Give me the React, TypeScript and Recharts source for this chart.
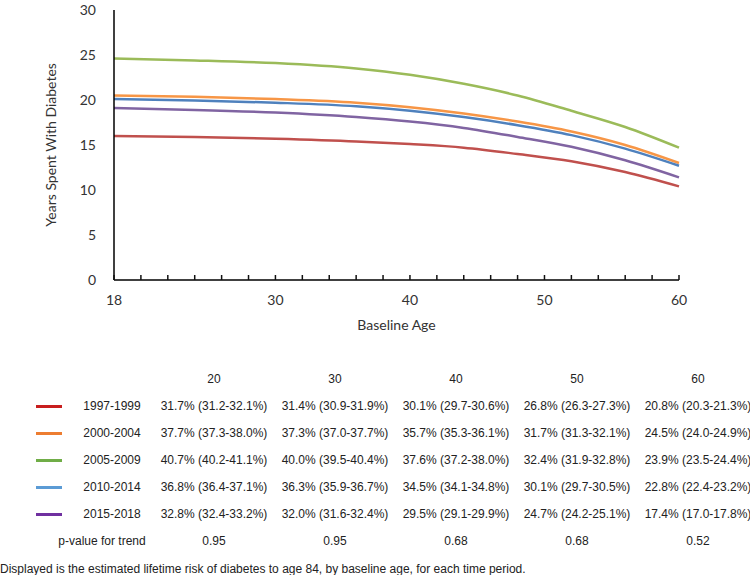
import { LineChart, Line, XAxis, YAxis } from 'recharts';

const ages = [18, 24, 30, 36, 40, 44, 48, 52, 56, 60];
const period1997 = [16.0, 15.9, 15.7, 15.4, 15.1, 14.7, 14.0, 13.2, 12.0, 10.4];
const period2000 = [20.5, 20.35, 20.1, 19.7, 19.2, 18.5, 17.6, 16.5, 15.0, 13.0];
const period2005 = [24.6, 24.4, 24.1, 23.5, 22.8, 21.8, 20.5, 18.8, 17.0, 14.7];
const period2010 = [20.1, 19.95, 19.7, 19.3, 18.8, 18.1, 17.2, 16.1, 14.6, 12.7];
const period2015 = [19.1, 18.9, 18.6, 18.1, 17.6, 16.9, 15.9, 14.8, 13.3, 11.4];

const xTicks = [18, 20, 22, 24, 26, 28, 30, 32, 34, 36, 38, 40, 42, 44, 46, 48, 50, 52, 54, 56, 58, 60];
const xLabels = [18, 30, 40, 50, 60];
const yTicks = [0, 5, 10, 15, 20, 25, 30];

const periods = ['1997-1999', '2000-2004', '2005-2009', '2010-2014', '2015-2018'];
const tableAges = ['20', '30', '40', '50', '60'];
const riskRows = [
  ['31.7% (31.2-32.1%)', '31.4% (30.9-31.9%)', '30.1% (29.7-30.6%)', '26.8% (26.3-27.3%)', '20.8% (20.3-21.3%)'],
  ['37.7% (37.3-38.0%)', '37.3% (37.0-37.7%)', '35.7% (35.3-36.1%)', '31.7% (31.3-32.1%)', '24.5% (24.0-24.9%)'],
  ['40.7% (40.2-41.1%)', '40.0% (39.5-40.4%)', '37.6% (37.2-38.0%)', '32.4% (31.9-32.8%)', '23.9% (23.5-24.4%)'],
  ['36.8% (36.4-37.1%)', '36.3% (35.9-36.7%)', '34.5% (34.1-34.8%)', '30.1% (29.7-30.5%)', '22.8% (22.4-23.2%)'],
  ['32.8% (32.4-33.2%)', '32.0% (31.6-32.4%)', '29.5% (29.1-29.9%)', '24.7% (24.2-25.1%)', '17.4% (17.0-17.8%)'],
];
const pValues = ['0.95', '0.95', '0.68', '0.68', '0.52'];

const lineColors = ['#C0504D', '#F79646', '#9BBB59', '#4F81BD', '#8064A2'];
const swatchColors = ['#C81E1E', '#ED7D31', '#70AD47', '#5B9BD5', '#7030A0'];
const seriesKeys = ['p1997', 'p2000', 'p2005', 'p2010', 'p2015'];

const data = ages.map((age, i) => ({
  age,
  p1997: period1997[i],
  p2000: period2000[i],
  p2005: period2005[i],
  p2010: period2010[i],
  p2015: period2015[i],
}));

const chartFont = 'Lato, "Open Sans", sans-serif';
const tableFont = '"Liberation Sans", Arial, sans-serif';

// y arrives as the axis line position; ticks point up into the plot
function AgeTick(props: any) {
  const { x, y, payload } = props;
  return (
    <g>
      <line x1={x} x2={x} y1={y} y2={y - 5} stroke="#111" strokeWidth={1.5} />
      {xLabels.includes(payload.value) && (
        <text x={x} y={y + 25} textAnchor="middle" fontSize={14} fill="#333" fontFamily={chartFont}>
          {payload.value}
        </text>
      )}
    </g>
  );
}

const colX = [214, 335, 456, 577, 698];
const rowY = [406, 433, 460, 487, 514];

function Cell({ x, y, children }: { x: number; y: number; children: any }) {
  return (
    <div
      style={{
        position: 'absolute',
        left: x - 80,
        top: y - 8,
        width: 160,
        textAlign: 'center',
        fontSize: 12,
        lineHeight: '16px',
        whiteSpace: 'nowrap',
      }}
    >
      {children}
    </div>
  );
}

export default function App() {
  return (
    <div
      style={{
        position: 'absolute',
        left: 0,
        top: 0,
        width: 750,
        height: 575,
        background: '#fff',
        fontFamily: tableFont,
        color: '#222',
      }}
    >
      <LineChart width={750} height={340} data={data} margin={{ top: 10, right: 71, left: 0, bottom: 0 }}>
        <YAxis
          type="number"
          domain={[0, 30]}
          ticks={yTicks}
          interval={0}
          width={114}
          tickLine={false}
          tickMargin={12}
          axisLine={{ stroke: '#000', strokeWidth: 1.5 }}
          tick={{ fontSize: 14, fill: '#333', fontFamily: chartFont }}
          label={{
            value: 'Years Spent With Diabetes',
            angle: -90,
            position: 'center',
            dx: -6,
            style: { fontSize: 14, fill: '#333', fontFamily: chartFont, textAnchor: 'middle' },
          }}
        />
        {seriesKeys.map((key, i) => (
          <Line
            key={key}
            dataKey={key}
            type="monotone"
            stroke={lineColors[i]}
            strokeWidth={2.5}
            dot={false}
            activeDot={false}
            isAnimationActive={false}
          />
        ))}
        <XAxis
          dataKey="age"
          type="number"
          domain={[18, 60]}
          ticks={xTicks}
          interval={0}
          tickSize={0}
          tickMargin={0}
          tickLine={false}
          tick={AgeTick}
          height={60}
          axisLine={{ stroke: '#000', strokeWidth: 1.5 }}
          label={{
            value: 'Baseline Age',
            position: 'insideBottom',
            offset: 10,
            style: { fontSize: 14, fill: '#333', fontFamily: chartFont },
          }}
        />
      </LineChart>

      {tableAges.map((a, j) => (
        <Cell key={a} x={colX[j]} y={379}>
          {a}
        </Cell>
      ))}
      {periods.map((p, i) => (
        <div key={p}>
          <div
            style={{
              position: 'absolute',
              left: 36,
              top: rowY[i] - 1.5,
              width: 26,
              height: 3,
              background: swatchColors[i],
            }}
          />
          <Cell x={112} y={rowY[i]}>
            {p}
          </Cell>
          {riskRows[i].map((v, j) => (
            <Cell key={j} x={colX[j]} y={rowY[i]}>
              {v}
            </Cell>
          ))}
        </div>
      ))}
      <Cell x={102} y={541}>
        p-value for trend
      </Cell>
      {pValues.map((v, j) => (
        <Cell key={j} x={colX[j]} y={541}>
          {v}
        </Cell>
      ))}
      <div
        style={{
          position: 'absolute',
          left: 0,
          top: 561,
          fontSize: 12,
          lineHeight: '16px',
          whiteSpace: 'nowrap',
        }}
      >
        Displayed is the estimated lifetime risk of diabetes to age 84, by baseline age, for each time period.
      </div>
    </div>
  );
}
